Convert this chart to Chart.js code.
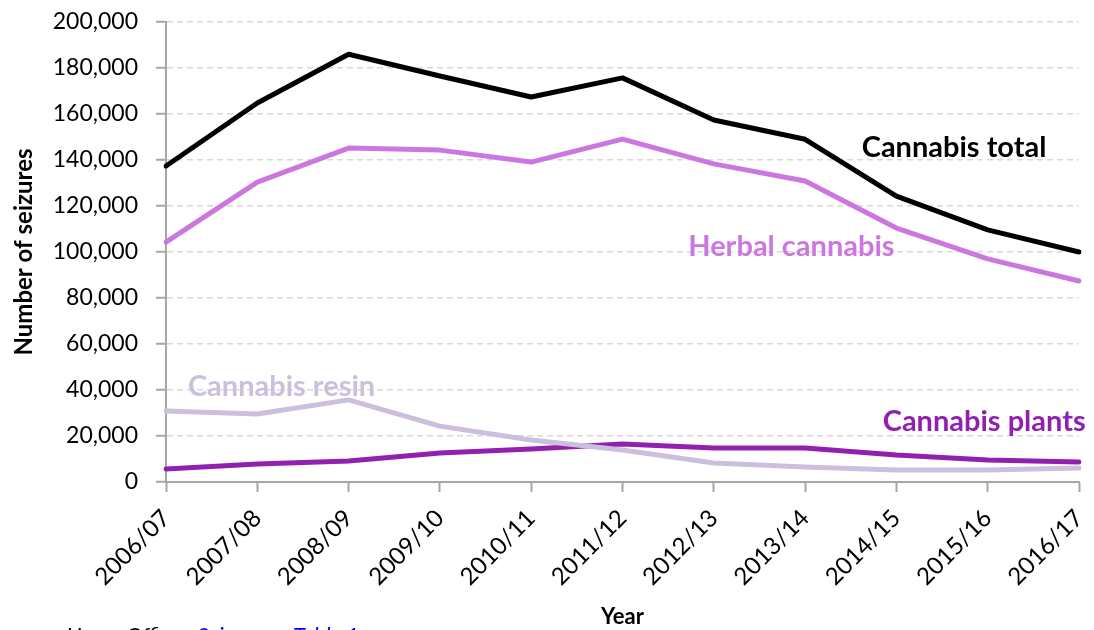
<!DOCTYPE html>
<html>
<head>
<meta charset="utf-8">
<script src="https://cdn.jsdelivr.net/npm/chart.js@4/dist/chart.umd.min.js"></script>
<style>
  html, body { margin: 0; padding: 0; background: #fff; overflow: hidden; }
  canvas { display: block; }
</style>
</head>
<body>
<canvas class="js-seizures" width="1094" height="630"></canvas>
<script>
const years = ["2006/07", "2007/08", "2008/09", "2009/10", "2010/11", "2011/12",
  "2012/13", "2013/14", "2014/15", "2015/16", "2016/17"];
const cannabisTotal = [137400, 164800, 186000, 176500, 167400, 175700, 157400, 149000, 124300, 109600, 100000];
const herbalCannabis = [104300, 130400, 145200, 144300, 139100, 149100, 138300, 130900, 110400, 97000, 87400];
const cannabisResin = [30900, 29600, 35700, 24300, 18300, 13900, 8300, 6500, 5200, 5200, 6100];
const cannabisPlants = [5700, 7800, 9100, 12600, 14300, 16500, 14800, 14800, 11700, 9600, 8700];
const yTicks = [0, 20000, 40000, 60000, 80000, 100000, 120000, 140000, 160000, 180000, 200000];

const FONT = "Lato, 'Open Sans', sans-serif";

// series name labels sit beside the lines: [text, colour, x (category index), y (value)]
const seriesLabels = [
  ["Cannabis total", "#000000", 7.62, 145200],
  ["Herbal cannabis", "#CC77E0", 5.72, 102200],
  ["Cannabis resin", "#CBBFDD", 0.24, 41300],
  ["Cannabis plants", "#9120B0", 7.85, 26100],
];

const labelPlugin = {
  id: "seriesLabels",
  afterDatasetsDraw(chart) {
    const { ctx, scales: { x, y } } = chart;
    const step = x.getPixelForValue(1) - x.getPixelForValue(0);
    ctx.save();
    ctx.font = "bold 29px " + FONT;
    ctx.textBaseline = "middle";
    ctx.textAlign = "left";
    seriesLabels.forEach(([text, color, xi, yv]) => {
      ctx.fillStyle = color;
      ctx.fillText(text, x.getPixelForValue(0) + xi * step, y.getPixelForValue(yv));
    });
    // source line, partly below the bottom edge
    ctx.font = "italic 22px " + FONT;
    ctx.textBaseline = "alphabetic";
    ctx.fillStyle = "#000000";
    ctx.fillText("Home Office,", 66, 643);
    ctx.fillStyle = "#0000FF";
    ctx.fillText("Seizures", 197, 643);
    ctx.fillText("Table 1", 293, 643);
    ctx.restore();
  },
};

const line = (label, data, color) => ({
  label, data,
  borderColor: color,
  backgroundColor: color,
  borderWidth: 5,
  pointRadius: 0,
  tension: 0,
  borderCapStyle: "round",
  borderJoinStyle: "round",
});

new Chart(document.querySelector(".js-seizures"), {
  type: "line",
  data: {
    labels: years,
    datasets: [
      line("Cannabis resin", cannabisResin, "#CBBFDD"),
      line("Cannabis plants", cannabisPlants, "#9120B0"),
      line("Herbal cannabis", herbalCannabis, "#CC77E0"),
      line("Cannabis total", cannabisTotal, "#000000"),
    ],
  },
  options: {
    responsive: false,
    animation: false,
    devicePixelRatio: 1,
    layout: { padding: { top: 22, right: 15, bottom: 0, left: 0 } },
    scales: {
      y: {
        min: 0,
        max: 200000,
        afterBuildTicks: (scale) => { scale.ticks = yTicks.map((v) => ({ value: v })); },
        afterFit: (scale) => {
          scale.width = 166;
          scale.paddingTop = 0;
          scale.paddingBottom = 0;
        },
        border: { display: true, color: "#A6A6A6", width: 2, dash: [6, 4] },
        grid: {
          color: "#D9D9D9",
          lineWidth: 1.5,
          drawTicks: true,
          tickLength: 10,
          tickColor: "#A6A6A6",
          tickWidth: 2,
          tickBorderDash: [],
        },
        ticks: {
          color: "#000",
          padding: 18,
          font: { family: FONT, size: 23 },
          callback: (value) => value.toLocaleString("en-US"),
        },
        title: {
          display: true,
          text: "Number of seizures",
          color: "#000",
          font: { family: FONT, size: 24, weight: "bold" },
          padding: { top: 10, bottom: 0 },
        },
      },
      x: {
        offset: false,
        afterFit: (scale) => {
          scale.height = 148;
          scale.paddingLeft = 0;
          scale.paddingRight = 0;
        },
        border: { display: true, color: "#A6A6A6", width: 2 },
        grid: {
          drawOnChartArea: false,
          drawTicks: true,
          tickLength: 10,
          tickColor: "#A6A6A6",
          tickWidth: 2,
        },
        ticks: {
          color: "#000",
          minRotation: 45,
          maxRotation: 45,
          padding: 12,
          autoSkip: false,
          font: { family: FONT, size: 24 },
        },
        title: {
          display: true,
          text: "Year",
          color: "#000",
          font: { family: FONT, size: 22, weight: "bold" },
          padding: { top: 0, bottom: 0 },
        },
      },
    },
    plugins: {
      legend: { display: false },
      tooltip: { enabled: false },
    },
  },
  plugins: [labelPlugin],
});
</script>
</body>
</html>
